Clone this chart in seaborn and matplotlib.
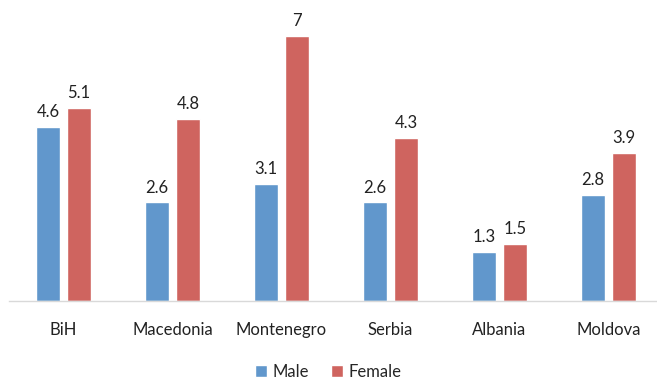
import matplotlib
matplotlib.use("Agg")
import matplotlib.pyplot as plt
import seaborn as sns
import pandas as pd

# data
countries = ["BiH", "Macedonia", "Montenegro", "Serbia", "Albania", "Moldova"]
male = [4.6, 2.6, 3.1, 2.6, 1.3, 2.8]
female = [5.1, 4.8, 7, 4.3, 1.5, 3.9]

df = pd.DataFrame({
    "country": countries * 2,
    "value": male + female,
    "sex": ["Male"] * len(countries) + ["Female"] * len(countries),
})

sns.set_style("white")
plt.rcParams["font.family"] = ["Lato", "DejaVu Sans"]

fig = plt.figure(figsize=(6.57, 3.83), dpi=100)
ax = fig.add_axes([0.0137, 0.214, 0.9954, 0.772])

# width/gap chosen so bars are ~24px wide with ~7px between them
sns.barplot(data=df, x="country", y="value", hue="sex",
            palette={"Male": "#6197CC", "Female": "#CF645F"},
            width=0.569, gap=0.226, saturation=1, ax=ax)

for cont in ax.containers:
    ax.bar_label(cont, fmt="%g", padding=5, fontsize=12, color="#222222")

ax.set_ylim(0, 7.8)
ax.set_xlim(-0.5, 5.5)
ax.set_xlabel("")
ax.set_ylabel("")
ax.set_yticks([])
for side in ["top", "left", "right"]:
    ax.spines[side].set_visible(False)
ax.spines["bottom"].set_color("#D9D9D9")
ax.spines["bottom"].set_linewidth(1)
ax.tick_params(axis="x", length=0, pad=15, labelsize=12, colors="#222222")

handles, labels = ax.get_legend_handles_labels()
ax.get_legend().remove()
fig.legend(handles, labels, loc="center", bbox_to_anchor=(0.5, 0.03),
           ncol=2, frameon=False, fontsize=12, handlelength=0.7,
           handleheight=0.7, handletextpad=0.35, columnspacing=1.3)

fig.savefig("out.png", dpi=100)
